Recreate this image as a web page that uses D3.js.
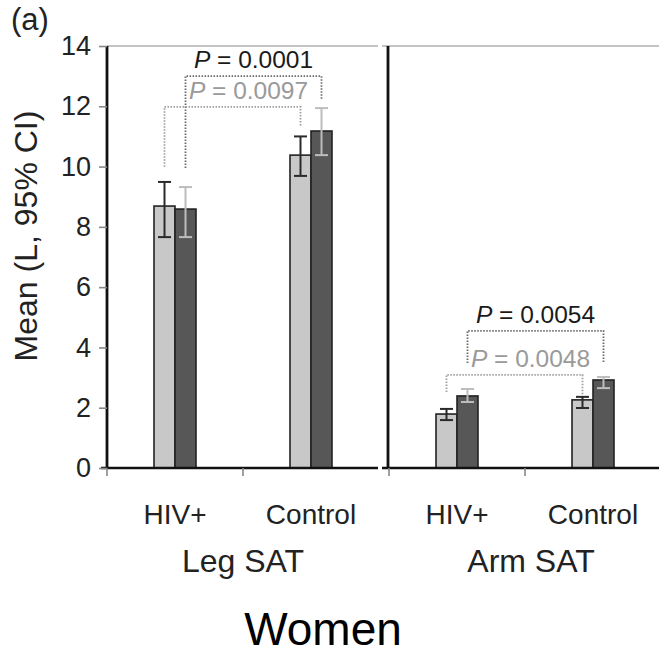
<!DOCTYPE html>
<html>
<head>
<meta charset="utf-8">
<script src="https://cdn.jsdelivr.net/npm/d3@7/dist/d3.min.js"></script>
<style>
  body { margin: 0; background: #fff; }
  text { font-family: "Liberation Sans", Arial, Helvetica, sans-serif; }
</style>
</head>
<body>
<svg width="659" height="656"></svg>
<script>
'use strict';

//..........Data................
const panels = ['Leg SAT', 'Arm SAT'];
const groups = ['HIV+', 'Control'];
const series = ['light', 'dark'];
// mean, lower CI, upper CI  per panel -> group -> series
const legMean = [[8.69, 8.59], [10.38, 11.18]];
const legLow  = [[7.66, 7.66], [9.69, 10.38]];
const legHigh = [[9.49, 9.32], [11.0, 11.94]];
const armMean = [[1.79, 2.39], [2.26, 2.92]];
const armLow  = [[1.59, 2.19], [1.99, 2.65]];
const armHigh = [[1.96, 2.62], [2.36, 3.02]];
const yTicks = [0, 2, 4, 6, 8, 10, 12, 14];
// brackets: panel, series, label, bracket level, left leg bottom, right leg bottom
const brackets = [
  {panel: 0, s: 1, label: '0.0001', level: 13.0, lowA: 9.95, lowB: 12.2},
  {panel: 0, s: 0, label: '0.0097', level: 11.98, lowA: 9.99, lowB: 11.31},
  {panel: 1, s: 1, label: '0.0054', level: 4.55, lowA: 3.48, lowB: 3.48},
  {panel: 1, s: 0, label: '0.0048', level: 3.09, lowA: 2.52, lowB: 2.42}
];

const svg = d3.select('svg');
const fillColor = {light: '#c8c8c8', dark: '#575757'};
const errColor = {light: '#2a2a2a', dark: '#bdbdbd'};
const bracketColor = ['#9e9e9e', '#6a6a6a'];
const labelColor = ['#9a9a9a', '#1a1a1a'];

const y = d3.scaleLinear().domain([0, 14]).range([468, 46]);
const panelRange = [[107, 379], [389, 661]];
const axisX = [107, 388];
const lineSpan = [[101, 378], [382, 659]];
const topSpan = [[107, 378], [382, 659]];

const means = [legMean, armMean];
const lows = [legLow, armLow];
const highs = [legHigh, armHigh];

//..........Panels................
panels.forEach((pname, p) => {
  const x = d3.scaleBand().domain(groups).range(panelRange[p]);
  const xs = d3.scaleBand().domain(series).range([-21, 21]);
  const g = svg.append('g');

  // top frame line
  g.append('line')
    .attr('x1', topSpan[p][0]).attr('x2', topSpan[p][1])
    .attr('y1', y(14)).attr('y2', y(14))
    .attr('stroke', '#b0b0b0').attr('stroke-width', 1.6);

  // bars
  groups.forEach((gr, gi) => {
    series.forEach((s, si) => {
      const cx = x(gr) + x.bandwidth() / 2;
      g.append('rect')
        .attr('x', cx + xs(s))
        .attr('y', y(means[p][gi][si]))
        .attr('width', xs.bandwidth())
        .attr('height', y(0) - y(means[p][gi][si]))
        .attr('fill', fillColor[s])
        .attr('stroke', '#222')
        .attr('stroke-width', 1.6);
    });
  });

  // error bars
  groups.forEach((gr, gi) => {
    series.forEach((s, si) => {
      const cx = x(gr) + x.bandwidth() / 2 + xs(s) + xs.bandwidth() / 2;
      const eg = g.append('g').attr('stroke', errColor[s]).attr('stroke-width', 2);
      eg.append('line').attr('x1', cx).attr('x2', cx)
        .attr('y1', y(lows[p][gi][si])).attr('y2', y(highs[p][gi][si]));
      [lows[p][gi][si], highs[p][gi][si]].forEach(v => {
        eg.append('line').attr('x1', cx - 6.5).attr('x2', cx + 6.5)
          .attr('y1', y(v)).attr('y2', y(v));
      });
    });
  });

  // brackets
  brackets.filter(b => b.panel === p).forEach(b => {
    const s = series[b.s];
    const xa = x(groups[0]) + x.bandwidth() / 2 + xs(s) + xs.bandwidth() / 2;
    const xb = x(groups[1]) + x.bandwidth() / 2 + xs(s) + xs.bandwidth() / 2;
    g.append('path')
      .attr('d', `M${xa},${y(b.lowA)}V${y(b.level)}H${xb}V${y(b.lowB)}`)
      .attr('fill', 'none')
      .attr('stroke', bracketColor[b.s])
      .attr('stroke-width', 1.8)
      .attr('stroke-dasharray', '1.5,1.5');
    const t = g.append('text')
      .attr('x', (xa + xb) / 2 + (b.s === 0 ? 16 : 0))
      .attr('y', y(b.level) - 8)
      .attr('text-anchor', 'middle')
      .attr('font-size', 24.5)
      .attr('fill', labelColor[b.s]);
    t.append('tspan').attr('font-style', 'italic').text('P');
    t.append('tspan').text(' = ' + b.label);
  });

  // x axis line
  g.append('line')
    .attr('x1', lineSpan[p][0]).attr('x2', lineSpan[p][1])
    .attr('y1', y(0)).attr('y2', y(0))
    .attr('stroke', '#111').attr('stroke-width', 2.6);

  // x ticks at band starts
  groups.forEach(gr => {
    g.append('line')
      .attr('x1', x(gr)).attr('x2', x(gr))
      .attr('y1', y(0)).attr('y2', y(0) + 8)
      .attr('stroke', '#888').attr('stroke-width', 1.6);
    g.append('text')
      .attr('x', x(gr) + x.bandwidth() / 2)
      .attr('y', 524)
      .attr('text-anchor', 'middle')
      .attr('font-size', 28)
      .attr('fill', '#222')
      .text(gr);
  });

  // panel label
  g.append('text')
    .attr('x', (panelRange[p][0] + panelRange[p][1]) / 2 + (p === 1 ? 6 : 0))
    .attr('y', 572)
    .attr('text-anchor', 'middle')
    .attr('font-size', 32)
    .attr('fill', '#222')
    .text(pname);

  // vertical axis line
  g.append('line')
    .attr('x1', axisX[p]).attr('x2', axisX[p])
    .attr('y1', y(14)).attr('y2', y(0))
    .attr('stroke', '#111').attr('stroke-width', 2.8);
});

//..........Y axis................
const yAxis = svg.append('g')
  .attr('transform', 'translate(107,0)')
  .call(d3.axisLeft(y).tickValues(yTicks).tickSize(8).tickPadding(8));
yAxis.select('.domain').remove();
yAxis.selectAll('.tick line').attr('stroke', '#888').attr('stroke-width', 1.6);
yAxis.selectAll('.tick text')
  .attr('font-size', 27)
  .attr('fill', '#222')
  .attr('font-family', '"Liberation Sans", Arial, sans-serif');

svg.append('text')
  .attr('transform', 'translate(37,236) rotate(-90)')
  .attr('text-anchor', 'middle')
  .attr('font-size', 32)
  .attr('fill', '#222')
  .text('Mean (L, 95% CI)');

svg.append('text')
  .attr('x', 11).attr('y', 30)
  .attr('font-size', 31)
  .attr('fill', '#222')
  .text('(a)');

svg.append('text')
  .attr('x', 323).attr('y', 645)
  .attr('text-anchor', 'middle')
  .attr('font-size', 46)
  .attr('fill', '#000')
  .text('Women');
</script>
</body>
</html>
